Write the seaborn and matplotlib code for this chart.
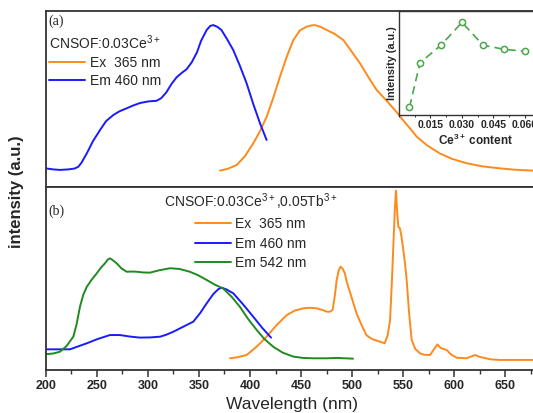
import matplotlib
matplotlib.use("Agg")
import matplotlib.pyplot as plt
import seaborn as sns
import pandas as pd
from matplotlib.ticker import MultipleLocator, FormatStrFormatter

# ---------------- data ----------------
# panel (a): CNSOF:0.03Ce3+
a_em_wl = [200.7, 207, 213.7, 222, 228, 231.7, 235, 240, 246, 253, 259, 266, 272, 279, 285, 292, 300, 308.5,
           313, 318, 323, 328, 333, 338, 343, 348, 352, 357.5, 361, 364, 368, 372, 377, 383.6, 390, 396.7, 403,
           409.8, 416.3]
a_em_int = [0.105, 0.100, 0.097, 0.100, 0.105, 0.115, 0.14, 0.191, 0.26, 0.324, 0.375, 0.409, 0.430, 0.447,
            0.462, 0.477, 0.486, 0.490, 0.505, 0.538, 0.585, 0.623, 0.648, 0.670, 0.71, 0.765, 0.83, 0.892,
            0.915, 0.920, 0.910, 0.892, 0.845, 0.778, 0.69, 0.589, 0.475, 0.362, 0.267]
a_ex_wl = [370.6, 378, 387, 395, 403.2, 410, 416.4, 423, 429.4, 436, 442.5, 449, 455.6, 460, 463.7, 469, 475.2,
           483, 491.5, 499, 507.8, 516, 524.2, 534, 543.8, 550, 556.9, 563.4, 574, 586, 598, 612.5, 628, 645,
           660, 677.7]
a_ex_int = [0.093, 0.103, 0.125, 0.175, 0.248, 0.32, 0.40, 0.51, 0.627, 0.74, 0.835, 0.89, 0.911, 0.918, 0.920,
            0.91, 0.892, 0.87, 0.835, 0.775, 0.703, 0.625, 0.551, 0.49, 0.425, 0.38, 0.333, 0.286, 0.235, 0.191,
            0.160, 0.135, 0.117, 0.106, 0.098, 0.093]

# panel (b): CNSOF:0.03Ce3+,0.05Tb3+
b_ex_wl = [380.4, 388, 396.7, 406, 416.3, 426, 436, 444, 452.3, 459, 465.4, 471, 475.2, 478, 481, 483, 485, 487,
           488.8, 491, 493, 494.5, 496.3, 500, 504.4, 509, 514.2, 520, 527.3, 532, 535, 537.3, 539, 540.5, 542,
           543.1, 544.2, 545.4, 547, 548.5, 550.3, 552, 553.6, 556, 558.5, 562, 566.7, 571, 576.5, 580, 583.7,
           587, 592.9, 597, 602.7, 612.5, 616, 620.6, 625, 628.8, 636, 645, 660, 677.7]
b_ex_int = [0.064, 0.070, 0.082, 0.125, 0.182, 0.245, 0.30, 0.325, 0.337, 0.340, 0.337, 0.328, 0.319, 0.318,
            0.328, 0.40, 0.492, 0.545, 0.565, 0.552, 0.528, 0.49, 0.455, 0.39, 0.31, 0.25, 0.19, 0.168, 0.155,
            0.146, 0.19, 0.273, 0.47, 0.674, 0.88, 0.98, 0.87, 0.783, 0.774, 0.73, 0.656, 0.58, 0.492, 0.31,
            0.164, 0.115, 0.091, 0.083, 0.082, 0.11, 0.14, 0.12, 0.109, 0.085, 0.067, 0.064, 0.072, 0.082,
            0.072, 0.067, 0.058, 0.055, 0.055, 0.055]
b_em460_wl = [200.7, 212, 223.5, 231, 240, 251, 262.7, 272.5, 282, 292, 302, 311.8, 318, 324.8, 334, 344.4, 351,
              357.5, 364, 369, 372.3, 377, 383.6, 393, 403.2, 412, 420.6]
b_em460_int = [0.113, 0.113, 0.113, 0.128, 0.146, 0.170, 0.191, 0.191, 0.183, 0.177, 0.178, 0.182, 0.193, 0.209,
               0.235, 0.264, 0.31, 0.364, 0.415, 0.442, 0.450, 0.44, 0.419, 0.36, 0.291, 0.23, 0.177]
b_em542_wl = [200.7, 207, 213.7, 220, 226.8, 230, 233.3, 236.5, 240, 245, 249.7, 254, 257.8, 260.5, 262.7, 265,
              269.3, 274, 279, 284, 289, 295, 302, 311, 321.6, 331, 341, 349, 357.5, 366, 373.8, 382, 390, 398,
              406.5, 414, 422.8, 432, 442.5, 452, 462, 475, 485, 493, 501]
b_em542_int = [0.087, 0.090, 0.100, 0.13, 0.182, 0.25, 0.346, 0.41, 0.455, 0.495, 0.528, 0.56, 0.583, 0.603,
               0.610, 0.602, 0.583, 0.555, 0.537, 0.538, 0.537, 0.533, 0.532, 0.545, 0.556, 0.552, 0.537, 0.518,
               0.492, 0.465, 0.445, 0.40, 0.346, 0.28, 0.219, 0.17, 0.127, 0.095, 0.073, 0.066, 0.064, 0.064,
               0.066, 0.064, 0.062]

# inset: intensity vs Ce3+ content
ce_content = [0.005, 0.01, 0.02, 0.03, 0.04, 0.05, 0.06]
ce_intensity = [0.07, 0.50, 0.67, 0.89, 0.67, 0.63, 0.61]

x_ticks = [200, 250, 300, 350, 400, 450, 500, 550, 600, 650]
inset_ticks = [0.015, 0.030, 0.045, 0.060]

# ---------------- style ----------------
sns.set_style("ticks")
plt.rcParams["font.family"] = ["Liberation Sans", "DejaVu Sans"]
plt.rcParams["mathtext.fontset"] = "custom"
plt.rcParams["mathtext.rm"] = "Liberation Sans"
plt.rcParams["mathtext.it"] = "Liberation Sans"
plt.rcParams["mathtext.bf"] = "Liberation Sans:bold"

ORANGE = "#ff8a1c"
BLUE = "#1a1aff"
GREEN = "#1f8a1f"
IN_GREEN = "#4aa84a"
SPINE = "#333333"

W, H = 533, 413
fig = plt.figure(figsize=(W / 100, H / 100), dpi=100)

left = 46 / W
width = (535.6 - 46) / W
ax_top = fig.add_axes([left, 1 - 187 / H, width, 176 / H])
ax_bot = fig.add_axes([left, 1 - 370 / H, width, 183 / H])
ax_in = fig.add_axes([399 / W, 1 - 114.5 / H, (538 - 399) / W, 103.5 / H])

lw = 1.4

def line(ax, x, y, color):
    df = pd.DataFrame({"x": x, "y": y})
    sns.lineplot(data=df, x="x", y="y", ax=ax, color=color, lw=lw,
                 estimator=None, sort=False, legend=False)
    ln = ax.lines[-1]
    ln.set_solid_joinstyle("round")
    return ln

# panel (a)
h_ex_a = line(ax_top, a_ex_wl, a_ex_int, ORANGE)
h_em_a = line(ax_top, a_em_wl, a_em_int, BLUE)

# panel (b)
h_ex_b = line(ax_bot, b_ex_wl, b_ex_int, ORANGE)
h_em460_b = line(ax_bot, b_em460_wl, b_em460_int, BLUE)
h_em542_b = line(ax_bot, b_em542_wl, b_em542_int, GREEN)

for ax in (ax_top, ax_bot):
    ax.set_xlim(200, 680)
    ax.set_ylim(0, 1.0)
    ax.set_xlabel("")
    ax.set_ylabel("")
    ax.set_yticks([])
    for s in ax.spines.values():
        s.set_visible(True)
        s.set_color(SPINE)
        s.set_linewidth(1.3)

ax_top.tick_params(axis="x", which="both", bottom=False, labelbottom=False)

ax_bot.set_xticks(x_ticks)
ax_bot.xaxis.set_minor_locator(MultipleLocator(25))
ax_bot.tick_params(axis="x", which="major", direction="out", length=5, width=1.1,
                   color=SPINE, labelsize=9, pad=2)
ax_bot.tick_params(axis="x", which="minor", direction="out", length=3, width=1.0, color=SPINE)
for t in ax_bot.get_xticklabels():
    t.set_fontweight("bold")
ax_bot.set_xlabel("")
fig.text(292 / W, 1 - 405 / H, "Wavelength (nm)", fontsize=12.5, ha="center", va="center")

# legends
leg_a = ax_top.legend([h_ex_a, h_em_a], ["Ex  365 nm", "Em 460 nm"],
                      title="CNSOF:0.03Ce$^{3+}$", loc="upper left",
                      bbox_to_anchor=(49 / W, 1 - 33 / H), bbox_transform=fig.transFigure,
                      frameon=False, fontsize=10, title_fontsize=10,
                      handlelength=2.6, handletextpad=0.35, labelspacing=0.3,
                      borderpad=0, borderaxespad=0)
leg_b = ax_bot.legend([h_ex_b, h_em460_b, h_em542_b], ["Ex  365 nm", "Em 460 nm", "Em 542 nm"],
                      title="CNSOF:0.03Ce$^{3+}$,0.05Tb$^{3+}$", loc="upper left",
                      bbox_to_anchor=(164 / W, 1 - 191 / H), bbox_transform=fig.transFigure,
                      frameon=False, fontsize=10, title_fontsize=10,
                      handlelength=2.6, handletextpad=0.3, labelspacing=0.4,
                      borderpad=0, borderaxespad=0)

fig.text(48 / W, 1 - 21 / H, "(a)", family="Liberation Serif", fontsize=10, va="center", ha="left")
fig.text(48 / W, 1 - 211 / H, "(b)", family="Liberation Serif", fontsize=10, va="center", ha="left")

fig.text(17 / W, 1 - 192 / H, "intensity (a.u.)", rotation=90, fontsize=12,
         fontweight="bold", va="center", ha="center")

# inset
ax_in.set_facecolor("white")
df_in = pd.DataFrame({"c": ce_content, "i": ce_intensity})
sns.lineplot(data=df_in, x="c", y="i", ax=ax_in, color=IN_GREEN, lw=1.2,
             estimator=None, sort=False, legend=False)
ax_in.lines[-1].set_dashes([5, 3])
sns.scatterplot(data=df_in, x="c", y="i", ax=ax_in, facecolor="white",
                edgecolor=IN_GREEN, linewidth=1.1, s=20, marker="o", zorder=5, legend=False)
ax_in.set_xlim(0, 0.0662)
ax_in.set_ylim(0, 1)
ax_in.set_yticks([])
ax_in.set_xticks(inset_ticks)
ax_in.xaxis.set_minor_locator(MultipleLocator(0.0075))
ax_in.xaxis.set_major_formatter(FormatStrFormatter("%.3f"))
ax_in.tick_params(axis="x", which="major", direction="out", length=2.5, width=0.8,
                  color=SPINE, labelsize=7.5, pad=1.5)
ax_in.tick_params(axis="x", which="minor", direction="out", length=1.5, width=0.7, color=SPINE)
for t in ax_in.get_xticklabels():
    t.set_fontweight("bold")
for s in ax_in.spines.values():
    s.set_visible(True)
    s.set_color(SPINE)
    s.set_linewidth(1.0)
ax_in.set_xlabel("")
ax_in.text(0.554, -0.25, "Ce$^{\\mathbf{3+}}$ content", transform=ax_in.transAxes,
           fontsize=8.5, fontweight="bold", ha="center", va="center")
ax_in.set_ylabel("Intensity (a.u.)", fontsize=7.8, fontweight="bold", labelpad=1.5)

fig.savefig("out.png", dpi=100)
